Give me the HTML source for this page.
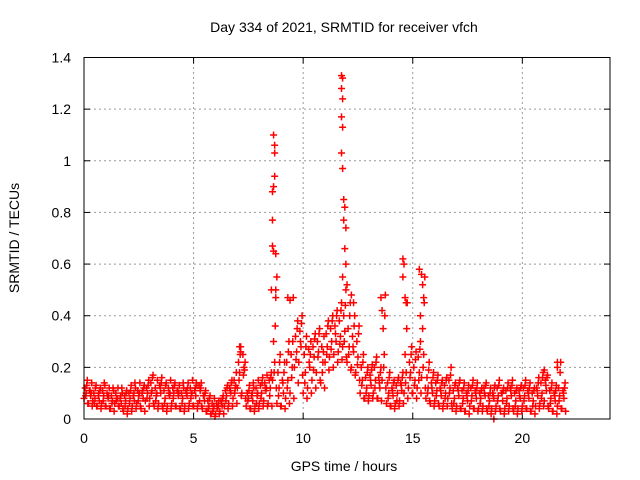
<!DOCTYPE html>
<html><head><meta charset="utf-8"><style>
body{margin:0;background:#fff;}
svg{display:block;font-family:"Liberation Sans",sans-serif;}
</style></head><body>
<svg id="chart" width="640" height="480" viewBox="0 0 640 480" xmlns="http://www.w3.org/2000/svg">
<rect width="640" height="480" fill="#fff"/>
<text x="344" y="32" font-size="14" text-anchor="middle">Day 334 of 2021, SRMTID for receiver vfch</text>
<text x="344" y="471" font-size="14" text-anchor="middle">GPS time / hours</text>
<text x="19" y="238" font-size="14" text-anchor="middle" transform="rotate(-90 19 238)">SRMTID / TECUs</text>
<g id="grid"></g><g id="ticks"></g><g id="marks"></g>
<rect x="84" y="57.5" width="526" height="361.5" fill="none" stroke="#000" stroke-width="1"/>
</svg>
<script>
const xTicks=[0,5,10,15,20];
const yTicks=[0,0.2,0.4,0.6,0.8,1,1.2,1.4];
const yTickLabels=["0","0.2","0.4","0.6","0.8","1","1.2","1.4"];
const times=[0,0.2,0.4,0.6,0.8,1,1.2,1.4,1.6,1.8,2,2.2,2.4,2.6,2.8,3,3.2,3.4,3.6,3.8,4,4.2,4.4,4.6,4.8,5,5.2,5.4,5.6,5.8,6,6.2,6.4,6.6,6.8,7,7.2,7.4,7.6,7.8,8,8.2,8.4,8.6,8.8,9,9.2,9.4,9.6,9.8,10,10.2,10.4,10.6,10.8,11,11.2,11.4,11.6,11.8,12,12.2,12.4,12.6,12.8,13,13.2,13.4,13.6,13.8,14,14.2,14.4,14.6,14.8,15,15.2,15.4,15.6,15.8,16,16.2,16.4,16.6,16.8,17,17.2,17.4,17.6,17.8,18,18.2,18.4,18.6,18.8,19,19.2,19.4,19.6,19.8,20,20.2,20.4,20.6,20.8,21,21.2,21.4,21.6,21.8];
const seriesA=[0.08,0.06,0.07,0.05,0.06,0.05,0.04,0.06,0.05,0.03,0.04,0.05,0.06,0.04,0.07,0.08,0.05,0.06,0.04,0.05,0.06,0.05,0.04,0.05,0.06,0.05,0.06,0.04,0.03,0.02,0.02,0.03,0.05,0.06,0.08,0.12,0.10,0.05,0.04,0.05,0.06,0.07,0.06,0.15,0.06,0.05,0.08,0.10,0.20,0.22,0.10,0.12,0.15,0.18,0.14,0.22,0.24,0.25,0.26,0.28,0.22,0.20,0.18,0.10,0.08,0.09,0.10,0.08,0.15,0.06,0.05,0.06,0.07,0.10,0.12,0.10,0.12,0.16,0.08,0.06,0.07,0.05,0.06,0.08,0.04,0.05,0.04,0.03,0.05,0.04,0.04,0.05,0.03,0.04,0.05,0.03,0.04,0.05,0.03,0.04,0.05,0.04,0.03,0.05,0.06,0.07,0.04,0.03,0.05,0.04];
const seriesB=[0.10,0.09,0.08,0.07,0.09,0.08,0.07,0.08,0.06,0.07,0.08,0.07,0.09,0.08,0.10,0.11,0.09,0.10,0.08,0.09,0.10,0.09,0.08,0.09,0.10,0.09,0.11,0.07,0.05,0.04,0.05,0.05,0.09,0.10,0.12,0.18,0.20,0.08,0.07,0.09,0.10,0.11,0.12,0.22,0.12,0.10,0.15,0.20,0.26,0.28,0.18,0.20,0.24,0.26,0.22,0.28,0.30,0.30,0.32,0.34,0.28,0.26,0.24,0.15,0.12,0.13,0.15,0.12,0.25,0.10,0.09,0.10,0.11,0.18,0.18,0.15,0.18,0.25,0.12,0.10,0.11,0.09,0.10,0.12,0.08,0.09,0.08,0.07,0.09,0.08,0.08,0.09,0.07,0.08,0.09,0.07,0.08,0.09,0.07,0.08,0.09,0.08,0.07,0.09,0.10,0.11,0.08,0.07,0.09,0.08];
const seriesC=[0.12,0.11,0.10,0.09,0.11,0.10,0.09,0.10,0.08,0.09,0.10,0.09,0.11,0.10,0.12,0.14,0.12,0.13,0.11,0.12,0.12,0.11,0.10,0.11,0.12,0.11,0.13,0.09,0.07,0.06,0.06,0.07,0.11,0.12,0.15,0.22,0.25,0.10,0.09,0.12,0.13,0.14,0.15,0.30,0.18,0.15,0.22,0.25,0.32,0.34,0.25,0.27,0.28,0.30,0.28,0.33,0.35,0.36,0.38,0.40,0.35,0.32,0.30,0.20,0.16,0.17,0.20,0.16,0.35,0.14,0.12,0.13,0.14,0.25,0.22,0.20,0.24,0.35,0.16,0.14,0.14,0.12,0.13,0.15,0.11,0.12,0.11,0.10,0.12,0.11,0.10,0.12,0.09,0.10,0.12,0.10,0.11,0.12,0.10,0.11,0.12,0.11,0.10,0.12,0.14,0.15,0.11,0.10,0.12,0.11];
const seriesD=[0.15,0.14,0.13,0.12,0.13,0.12,0.11,0.12,0.10,0.11,0.13,0.12,0.14,0.13,0.15,0.17,0.15,0.16,0.14,0.15,0.14,0.13,0.12,0.14,0.15,0.13,0.14,0.11,0.09,0.08,0.07,0.09,0.13,0.15,0.18,0.28,0.22,0.13,0.12,0.15,0.16,0.17,0.18,0.50,0.25,0.22,0.30,0.47,0.38,0.40,0.32,0.30,0.33,0.35,0.32,0.38,0.40,0.42,0.45,0.50,0.45,0.40,0.36,0.25,0.20,0.21,0.24,0.20,0.48,0.18,0.15,0.16,0.18,0.45,0.28,0.26,0.30,0.55,0.22,0.18,0.17,0.15,0.16,0.20,0.14,0.15,0.14,0.13,0.15,0.14,0.12,0.14,0.12,0.13,0.15,0.12,0.14,0.15,0.12,0.13,0.15,0.14,0.12,0.16,0.18,0.17,0.14,0.13,0.22,0.14];
const seriesE=[0.09,0.11,0.06,0.10,0.07,0.09,0.06,0.07,0.09,0.05,0.06,0.10,0.07,0.11,0.08,0.10,0.07,0.12,0.06,0.10,0.08,0.11,0.06,0.10,0.08,0.12,0.07,0.09,0.04,0.03,0.04,0.06,0.07,0.11,0.10,0.15,0.17,0.07,0.10,0.06,0.08,0.12,0.09,0.18,0.09,0.14,0.12,0.16,0.23,0.30,0.14,0.22,0.19,0.24,0.18,0.25,0.27,0.33,0.29,0.30,0.25,0.28,0.21,0.13,0.10,0.15,0.12,0.14,0.20,0.08,0.11,0.07,0.13,0.14,0.16,0.13,0.15,0.20,0.10,0.12,0.09,0.11,0.08,0.10,0.06,0.11,0.06,0.09,0.07,0.10,0.06,0.10,0.05,0.09,0.07,0.10,0.06,0.11,0.05,0.09,0.07,0.10,0.05,0.11,0.08,0.13,0.06,0.09,0.07,0.10];
const seriesF=[0.13,0.10,0.12,0.11,0.14,0.09,0.12,0.08,0.12,0.10,0.11,0.14,0.10,0.12,0.13,0.16,0.10,0.14,0.13,0.10,0.13,0.10,0.14,0.12,0.10,0.14,0.12,0.10,0.08,0.05,0.05,0.08,0.12,0.14,0.13,0.25,0.19,0.11,0.14,0.10,0.14,0.12,0.16,0.36,0.22,0.18,0.26,0.30,0.35,0.37,0.28,0.25,0.31,0.33,0.26,0.36,0.38,0.40,0.42,0.44,0.40,0.36,0.33,0.22,0.18,0.19,0.22,0.18,0.40,0.16,0.14,0.15,0.16,0.35,0.25,0.23,0.27,0.45,0.19,0.16,0.15,0.14,0.15,0.17,0.13,0.14,0.12,0.11,0.13,0.12,0.11,0.13,0.10,0.12,0.13,0.11,0.12,0.13,0.11,0.12,0.13,0.12,0.11,0.14,0.16,0.16,0.12,0.11,0.18,0.12];
const seriesG=[0.06,0.05,0.05,0.04,0.05,0.04,0.03,0.05,0.04,0.02,0.03,0.04,0.05,0.03,0.05,0.06,0.04,0.05,0.03,0.04,0.05,0.04,0.03,0.04,0.05,0.04,0.05,0.03,0.02,0.01,0.02,0.02,0.04,0.05,0.06,0.09,0.08,0.04,0.03,0.04,0.05,0.05,0.05,0.12,0.05,0.04,0.06,0.08,0.14,0.17,0.08,0.10,0.12,0.15,0.12,0.19,0.20,0.22,0.23,0.24,0.19,0.17,0.15,0.08,0.07,0.08,0.08,0.07,0.12,0.05,0.04,0.05,0.06,0.08,0.10,0.08,0.10,0.12,0.07,0.05,0.06,0.04,0.05,0.06,0.03,0.04,0.03,0.02,0.04,0.03,0.03,0.04,0.02,0.03,0.04,0.02,0.03,0.04,0.02,0.03,0.04,0.03,0.02,0.04,0.05,0.05,0.03,0.02,0.04,0.03];
const spikeTimes=[8.55,8.6,8.6,8.65,8.7,8.65,8.7,8.7,8.65,8.75,8.8,8.75,8.6,11.75,11.8,11.75,11.8,11.75,11.8,11.75,11.8,11.85,11.9,11.85,11.95,11.9,11.95,11.8,12.0,12.2,12.3,13.55,13.6,14.55,14.6,14.55,14.65,14.7,15.3,15.4,15.45,15.5,15.35,9.3,9.4,7.1,7.15,18.7,21.6,21.6,21.0];
const spikeValues=[0.5,0.77,0.88,0.9,0.94,1.1,1.06,1.03,0.65,0.64,0.55,0.47,0.67,1.33,1.32,1.28,1.24,1.17,1.13,1.03,0.97,0.85,0.82,0.77,0.74,0.66,0.6,0.55,0.52,0.48,0.45,0.47,0.42,0.62,0.6,0.55,0.47,0.45,0.58,0.56,0.52,0.47,0.4,0.47,0.46,0.28,0.26,0.0,0.22,0.2,0.19];

const X0=84,X1=610,Y0=419,Y1=57.5;
const xs=v=>X0+(v/24)*(X1-X0);
const ys=v=>Y0-(v/1.4)*(Y0-Y1);
const NS="http://www.w3.org/2000/svg";
const grid=document.getElementById('grid'),ticks=document.getElementById('ticks'),marks=document.getElementById('marks');
function mk(tag,attrs,parent){const e=document.createElementNS(NS,tag);for(const k in attrs)e.setAttribute(k,attrs[k]);parent.appendChild(e);return e;}
xTicks.forEach(v=>{
  const x=xs(v);
  if(v>0){const g=mk('line',{x1:x,x2:x,y1:Y0,y2:Y1,stroke:'#999','stroke-dasharray':'2,3'},grid);
  
  }
  mk('line',{x1:x,x2:x,y1:Y0,y2:Y0-6,stroke:'#000'},ticks);
  mk('line',{x1:x,x2:x,y1:Y1,y2:Y1+6,stroke:'#000'},ticks);
  const t=mk('text',{x:x,y:443,'font-size':14,'text-anchor':'middle'},ticks);
  t.textContent=String(v);
  
  
});
yTicks.forEach((v,i)=>{
  const y=ys(v);
  if(v>0&&v<1.4){const g=mk('line',{x1:X0,x2:X1,y1:y,y2:y,stroke:'#999','stroke-dasharray':'2,3'},grid);
  
  }
  mk('line',{x1:X0,x2:X0+6,y1:y,y2:y,stroke:'#000'},ticks);
  mk('line',{x1:X1,x2:X1-6,y1:y,y2:y,stroke:'#000'},ticks);
  const t=mk('text',{x:71,y:y+5,'font-size':14,'text-anchor':'end'},ticks);
  t.textContent=yTickLabels[i];
  
  
});
function plus(t,v){
  const x=xs(t),y=ys(v);
  const p=mk('path',{d:`M${x-3.5},${y}H${x+3.5}M${x},${y-3.5}V${y+3.5}`,stroke:'#f00','stroke-width':1.5,fill:'none'},marks);
  
  
}
times.forEach((t,i)=>{
  plus(t,seriesA[i]);plus(t+0.05,seriesC[i]);plus(t+0.075,seriesE[i]);
  plus(t+0.1,seriesB[i]);plus(t+0.125,seriesF[i]);plus(t+0.15,seriesD[i]);plus(t+0.175,seriesG[i]);
});
spikeTimes.forEach((t,i)=>plus(t,spikeValues[i]));
</script>
</body></html>
